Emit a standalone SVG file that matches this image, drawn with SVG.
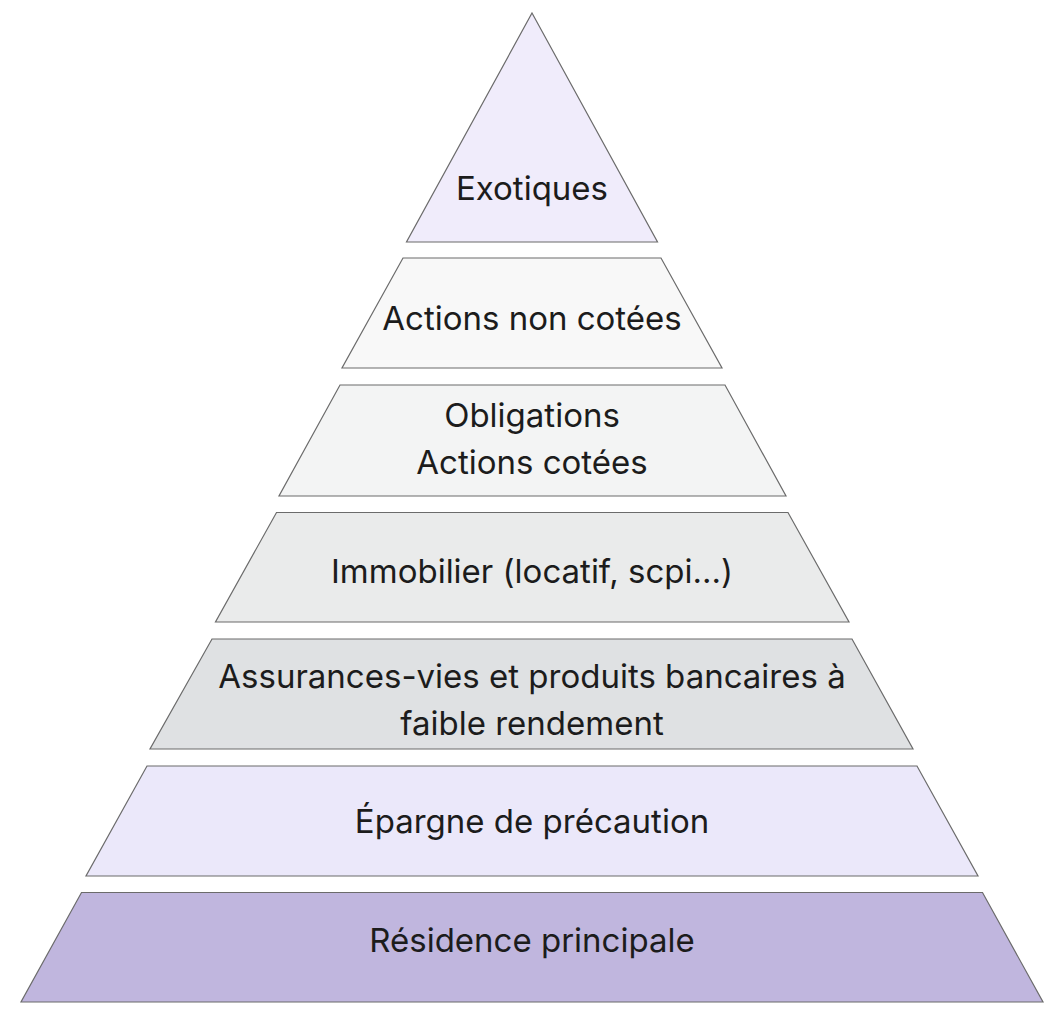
<svg xmlns="http://www.w3.org/2000/svg" width="1060" height="1016" viewBox="0 0 1060 1016">
<style>
.lvl{stroke:#6b6b6b;stroke-width:1.2;stroke-linejoin:miter}
.t{font-family:Inter,"Liberation Sans",sans-serif;font-size:33px;fill:#1c1c1c;text-anchor:middle}
</style>
<rect width="1060" height="1016" fill="#ffffff"/>
<g id="level-1">
<polygon class="lvl" fill="#f0ecfb" points="532,13 657.5,242 406.5,242"/>
<text class="t" x="532" y="200">Exotiques</text>
</g>
<g id="level-2">
<polygon class="lvl" fill="#f8f8f8" points="403,258 661,258 722,368 342,368"/>
<text class="t" x="532" y="330">Actions non cotées</text>
</g>
<g id="level-3">
<polygon class="lvl" fill="#f3f4f4" points="340,385 725,385 786,496 279,496"/>
<text class="t" x="532" y="427">Obligations</text>
<text class="t" x="532" y="474">Actions cotées</text>
</g>
<g id="level-4">
<polygon class="lvl" fill="#eaebeb" points="276.5,512.5 788,512.5 849,622 215.5,622"/>
<text class="t" x="532" y="583">Immobilier (locatif, scpi…)</text>
</g>
<g id="level-5">
<polygon class="lvl" fill="#dfe1e3" points="212,639 852,639 913,749 150,749"/>
<text class="t" x="532" y="688">Assurances-vies et produits bancaires à</text>
<text class="t" x="532" y="735">faible rendement</text>
</g>
<g id="level-6">
<polygon class="lvl" fill="#ebe8fa" points="147,766 917,766 978,876 86,876"/>
<text class="t" x="532" y="833">Épargne de précaution</text>
</g>
<g id="level-7">
<polygon class="lvl" fill="#c0b6de" points="81.5,892.5 982.5,892.5 1043,1002 21,1002"/>
<text class="t" x="532" y="952">Résidence principale</text>
</g>
<g id="connectors"></g>
</svg>
